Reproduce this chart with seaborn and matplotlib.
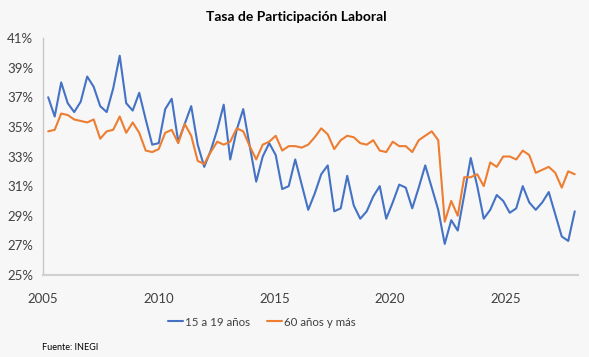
import numpy as np
import pandas as pd
import matplotlib.pyplot as plt
import seaborn as sns

# tasa de participación trimestral, 2005T1 - 2025T2 (%)
jovenes = [37.0, 35.7, 38.0, 36.6, 36.0, 36.7, 38.4, 37.7, 36.4, 36.0,
           37.6, 39.8, 36.6, 36.1, 37.3, 35.5, 33.8, 33.9, 36.2, 36.9,
           34.0, 35.2, 36.4, 33.8, 32.3, 33.4, 34.8, 36.5, 32.8, 34.8,
           36.2, 33.7, 31.3, 33.0, 33.9, 33.1, 30.8, 31.0, 32.8, 31.1,
           29.4, 30.5, 31.8, 32.4, 29.3, 29.5, 31.7, 29.7, 28.8, 29.3,
           30.3, 31.0, 28.8, 29.9, 31.1, 30.9, 29.5, 30.9, 32.4, 30.9,
           29.4, 27.1, 28.7, 28.0, 30.4, 32.9, 31.0, 28.8, 29.4, 30.4,
           30.0, 29.2, 29.5, 31.0, 29.9, 29.4, 29.9, 30.6, 29.1, 27.6,
           27.3, 29.3]
mayores = [34.7, 34.8, 35.9, 35.8, 35.5, 35.4, 35.3, 35.5, 34.2, 34.7,
           34.8, 35.7, 34.6, 35.3, 34.6, 33.4, 33.3, 33.5, 34.6, 34.8,
           33.9, 35.2, 34.4, 32.7, 32.5, 33.3, 34.0, 33.8, 34.0, 34.9,
           34.7, 33.7, 32.8, 33.8, 34.0, 34.4, 33.4, 33.7, 33.7, 33.6,
           33.8, 34.3, 34.9, 34.5, 33.5, 34.1, 34.4, 34.3, 33.9, 33.8,
           34.1, 33.4, 33.3, 34.0, 33.7, 33.7, 33.3, 34.1, 34.4, 34.7,
           34.1, 28.6, 30.0, 29.0, 31.6, 31.6, 31.8, 31.0, 32.6, 32.3,
           33.0, 33.0, 32.8, 33.4, 33.1, 31.9, 32.1, 32.3, 31.9, 30.9,
           32.0, 31.8]
series = ['15 a 19 años', '60 años y más']
colores = ['#4472C4', '#ED7D31']
anios = ['2005', '2010', '2015', '2020', '2025']
pos_anios = [-0.8, 17.0, 34.8, 52.6, 70.4]   # donde aparecen las etiquetas
ticks_x = [19.5, 39.5, 59.5, 79.5]

n = len(jovenes)
df = pd.DataFrame({
    'trimestre': list(range(n)) * 2,
    'tasa': jovenes + mayores,
    'grupo': [series[0]] * n + [series[1]] * n,
})

sns.set_style('white')
plt.rcParams['font.family'] = ['Lato', 'DejaVu Sans']
fondo = '#f7f7f7'

fig = plt.figure(figsize=(5.89, 3.57), dpi=100, facecolor=fondo)
ax = fig.add_axes([43 / 589, 1 - 275 / 357, 535 / 589, 237 / 357])
ax.set_facecolor(fondo)

sns.lineplot(data=df, x='trimestre', y='tasa', hue='grupo', palette=colores,
             hue_order=series, linewidth=1.5, ax=ax)

ax.set_xlim(-0.5, n - 0.5)
ax.set_ylim(25, 41)
ax.set_yticks(range(25, 42, 2))
ax.set_yticklabels([f'{v}%' for v in range(25, 42, 2)], fontsize=9.5, color='#404040')
ax.set_xticks(ticks_x)
ax.set_xticklabels([])
ax.set_xticks(pos_anios, minor=True)
ax.set_xticklabels(anios, minor=True, fontsize=9.5, color='#404040')
ax.tick_params(axis='x', which='major', direction='out', length=4, color='#c8c8c8', width=1)
ax.tick_params(axis='x', which='minor', length=0, pad=13)
ax.tick_params(axis='y', direction='out', length=4, color='#c8c8c8', width=1, pad=3)
ax.set_xlabel('')
ax.set_ylabel('')

for s in ['top', 'right']:
    ax.spines[s].set_visible(False)
ax.spines['left'].set_color('#c8c8c8')
ax.spines['left'].set_linewidth(1)
ax.spines['bottom'].set_color('#d0d0d0')
ax.spines['bottom'].set_linewidth(1.5)

fig.text(0.503, 0.952, 'Tasa de Participación Laboral', ha='center', va='center',
         fontsize=10, fontweight='bold', color='#000000')

sns.move_legend(ax, 'center', bbox_to_anchor=(0.445, 0.098), bbox_transform=fig.transFigure,
                ncol=2, frameon=False, title=None, fontsize=8.3, handlelength=1.3,
                handletextpad=0.15, columnspacing=1.5)
for t in ax.get_legend().get_texts():
    t.set_color('#404040')

fig.text(42 / 589, 1 - 347 / 357, 'Fuente: INEGI', ha='left', va='center', fontsize=6.5,
         color='#000000')

fig.savefig('out.png', dpi=100, facecolor=fondo)
